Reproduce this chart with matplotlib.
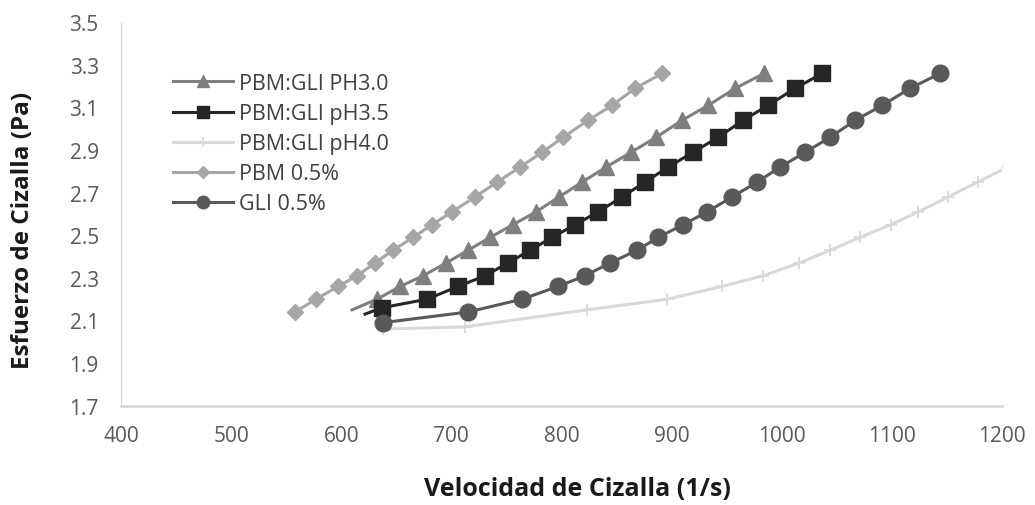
import matplotlib
matplotlib.use("Agg")
import matplotlib.pyplot as plt

# Shear rate (1/s) and shear stress (Pa) for each formulation
ph30_rate = [609.8, 632.5, 653.4, 674.3, 695.2, 715.2, 735.1, 756.0, 776.9, 797.8,
             818.7, 840.5, 863.2, 885.9, 909.5, 933.2, 957.7, 984.0]
ph30_stress = [2.15, 2.20, 2.26, 2.31, 2.37, 2.43, 2.49, 2.55, 2.61, 2.68,
               2.75, 2.82, 2.89, 2.96, 3.04, 3.11, 3.19, 3.26]

ph35_rate = [621.6, 637.1, 677.9, 706.1, 730.6, 751.5, 771.5, 791.5, 812.4, 833.2,
             855.0, 875.9, 896.8, 919.5, 942.2, 964.9, 987.6, 1012.2, 1036.7]
ph35_stress = [2.13, 2.16, 2.20, 2.26, 2.31, 2.37, 2.43, 2.49, 2.55, 2.61,
               2.68, 2.75, 2.82, 2.89, 2.96, 3.04, 3.11, 3.19, 3.26]

ph40_rate = [638.0, 712.0, 823.0, 896.0, 946.0, 983.0, 1016.0, 1044.0, 1071.0,
             1099.0, 1124.0, 1151.0, 1178.0, 1205.0]
ph40_stress = [2.06, 2.07, 2.15, 2.20, 2.26, 2.31, 2.37, 2.43, 2.49,
               2.55, 2.61, 2.68, 2.75, 2.82]

pbm_rate = [558.0, 577.1, 597.1, 614.4, 630.7, 647.0, 665.2, 682.5, 700.6, 721.5,
            741.5, 762.4, 782.4, 801.5, 824.2, 846.0, 866.8, 891.4]
pbm_stress = [2.14, 2.20, 2.26, 2.31, 2.37, 2.43, 2.49, 2.55, 2.61, 2.68,
              2.75, 2.82, 2.89, 2.96, 3.04, 3.11, 3.19, 3.26]

gli_rate = [638.0, 715.2, 764.2, 796.9, 821.4, 844.1, 868.7, 887.8, 910.4, 932.2,
            954.9, 977.7, 998.5, 1021.3, 1044.0, 1066.7, 1091.2, 1116.6, 1143.9]
gli_stress = [2.09, 2.14, 2.20, 2.26, 2.31, 2.37, 2.43, 2.49, 2.55, 2.61,
              2.68, 2.75, 2.82, 2.89, 2.96, 3.04, 3.11, 3.19, 3.26]

labels = ["PBM:GLI PH3.0", "PBM:GLI pH3.5", "PBM:GLI pH4.0", "PBM 0.5%", "GLI 0.5%"]
x_ticks = [400, 500, 600, 700, 800, 900, 1000, 1100, 1200]
y_ticks = [1.7, 1.9, 2.1, 2.3, 2.5, 2.7, 2.9, 3.1, 3.3, 3.5]

FONT = "Open Sans"
TICK_COLOR = "#595959"

fig = plt.figure(figsize=(10.35, 5.06), dpi=100)
ax = fig.add_axes([121 / 1035, 1 - 406.7 / 506, (1002 - 121) / 1035, (406.7 - 23.3) / 506])

lw = 2.2
ax.plot(ph30_rate, ph30_stress, color="#7f7f7f", lw=lw, marker="^", ms=12,
        markevery=list(range(1, len(ph30_rate))), label=labels[0], zorder=3)
ax.plot(ph35_rate, ph35_stress, color="#262626", lw=lw, marker="s", ms=11,
        markevery=list(range(1, len(ph35_rate))), label=labels[1], zorder=4)
ax.plot(ph40_rate, ph40_stress, color="#d9d9d9", lw=lw, marker="+", ms=9, mew=1.3,
        label=labels[2], zorder=5)
ax.plot(pbm_rate, pbm_stress, color="#a6a6a6", lw=lw, marker="D", ms=8,
        label=labels[3], zorder=6)
ax.plot(gli_rate, gli_stress, color="#595959", lw=lw, marker="o", ms=12,
        label=labels[4], zorder=7)

ax.set_xlim(400, 1200)
ax.set_ylim(1.7, 3.5)
ax.set_xticks(x_ticks)
ax.set_yticks(y_ticks)
ax.set_xticklabels([str(t) for t in x_ticks])
ax.set_yticklabels([f"{t:.1f}" for t in y_ticks])
ax.tick_params(axis="both", length=0, labelsize=15, labelcolor=TICK_COLOR)
ax.tick_params(axis="x", pad=14)
ax.tick_params(axis="y", pad=16)
for lab in ax.get_xticklabels() + ax.get_yticklabels():
    lab.set_family(FONT)

for side in ("top", "right"):
    ax.spines[side].set_visible(False)
ax.spines["bottom"].set_color("#d9d9d9")
ax.spines["bottom"].set_linewidth(2.0)
ax.spines["left"].set_color("#d9d9d9")
ax.spines["left"].set_linewidth(0.8)

leg = ax.legend(loc="upper left", bbox_to_anchor=(173 / 1035, 1 - 74 / 506),
                bbox_transform=fig.transFigure, frameon=False, numpoints=1,
                markerscale=0.75, handlelength=2.8, handletextpad=0.25,
                borderpad=0, borderaxespad=0, labelspacing=0.42,
                prop={"family": FONT, "size": 15.5})
for t in leg.get_texts():
    t.set_color("#404040")

fig.text(23 / 1035, 1 - 230 / 506, "Esfuerzo de Cizalla (Pa)", rotation=90,
         ha="center", va="center", fontsize=17.5, fontweight="bold", family=FONT,
         color="#1a1a1a")
fig.text(577 / 1035, 1 - 490 / 506, "Velocidad de Cizalla (1/s)",
         ha="center", va="center", fontsize=18, fontweight="bold", family=FONT,
         color="#1a1a1a")

fig.savefig("out.png", dpi=100)
